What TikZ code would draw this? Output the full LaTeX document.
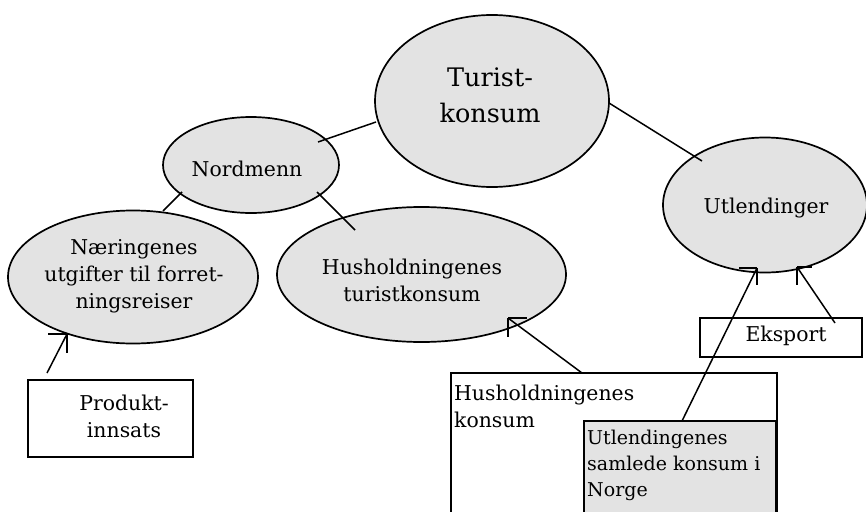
\documentclass[tikz,border=0pt]{standalone}
\usepackage{fontspec}
\setmainfont{DejaVu Serif}
\usetikzlibrary{shapes.geometric,calc}
\definecolor{fillg}{RGB}{227,227,227}
\tikzset{
  ell/.style={ellipse,draw,fill=fillg,line width=1.7pt,inner sep=0pt},
  boxw/.style={rectangle,draw,line width=1.9pt,inner sep=0pt},
  boxg/.style={rectangle,draw,fill=fillg,line width=1.9pt,inner sep=0pt},
  txt/.style={inner sep=0pt,align=center,font=\fontsize{20.4}{27}\selectfont},
  txtl/.style={inner sep=0pt,align=left,anchor=west,font=\fontsize{20.4}{27}\selectfont},
  con/.style={line width=1.5pt},
  prong/.style={line width=1.5pt}
}
\begin{document}
\begin{tikzpicture}[x=1pt,y=-1pt]
\useasboundingbox (0,0) rectangle (866,511);
\clip (0,0) rectangle (866,511);

% ellipses
\node[ell,minimum width=234pt,minimum height=172pt] (turist) at (492,101) {};
\node[ell,minimum width=176pt,minimum height=96pt] (nordmenn) at (251,165) {};
\node[ell,minimum width=204pt,minimum height=135pt] (utl) at (765,205) {};
\node[ell,minimum width=250pt,minimum height=133pt] (naer) at (133,277) {};
\node[ell,minimum width=289pt,minimum height=135pt] (hust) at (421.5,274.5) {};

% boxes
\node[boxw,minimum width=165pt,minimum height=77pt] (prod) at (110.5,418.5) {};
\node[boxw,minimum width=162pt,minimum height=39pt] (eksp) at (781,337.5) {};
\node[boxw,minimum width=326pt,minimum height=160pt] (hk) at (614,453) {};
\node[boxg,minimum width=192pt,minimum height=112pt] (usk) at (680,477) {};

% texts
\node[txt,font=\fontsize{25.5}{36}\selectfont] (tturist) at (490,95) {Turist-\\konsum};
\node[txt] (tnord) at (247,169) {Nordmenn};
\node[txt] (tutl) at (766,208) {Utlendinger};
\node[txt] (tnaer) at (134,276) {Næringenes\\utgifter til forret-\\ningsreiser};
\node[txt] (thust) at (412,280) {Husholdningenes\\turistkonsum};
\node[txt] (tprod) at (124,416) {Produkt-\\innsats};
\node[txt] (teksp) at (786,336) {Eksport};
\node[txtl] (thk) at (454,406) {Husholdningenes\\konsum};
\node[txtl,font=\fontsize{19}{26}\selectfont] (tusk) at (587,465) {Utlendingenes\\samlede konsum i\\Norge};

% connector end points
\coordinate (c1a) at (376,122); \coordinate (c1b) at (318,142);
\coordinate (c2a) at (609,103); \coordinate (c2b) at (702,161);
\coordinate (c3a) at (182,192); \coordinate (c3b) at (163,211);
\coordinate (c4a) at (317,192); \coordinate (c4b) at (355,230);

\draw[con] (c1a) -- (c1b);
\draw[con] (c2a) -- (c2b);
\draw[con] (c3a) -- (c3b);
\draw[con] (c4a) -- (c4b);

% arrows with their tips
\coordinate (a1t) at (47,373); \coordinate (a1h) at (67,334);
\coordinate (a2t) at (582,373); \coordinate (a2h) at (508,318);
\coordinate (a3t) at (682,421); \coordinate (a3h) at (757,268);
\coordinate (a4t) at (835,323); \coordinate (a4h) at (797,267);

\draw[con] (a1t) -- (a1h);
\draw[prong] (a1h) -- ++(-19,0);
\draw[prong] (a1h) -- ++(0,19);

\draw[con] (a2t) -- (a2h);
\draw[prong] (a2h) -- ++(19,0);
\draw[prong] (a2h) -- ++(0,19);

\draw[con] (a3t) -- (a3h);
\draw[prong] (a3h) -- ++(-18,0);
\draw[prong] (a3h) -- ++(0,17);

\draw[con] (a4t) -- (a4h);
\draw[prong] (a4h) -- ++(15,0);
\draw[prong] (a4h) -- ++(0,18);
\end{tikzpicture}
\end{document}
